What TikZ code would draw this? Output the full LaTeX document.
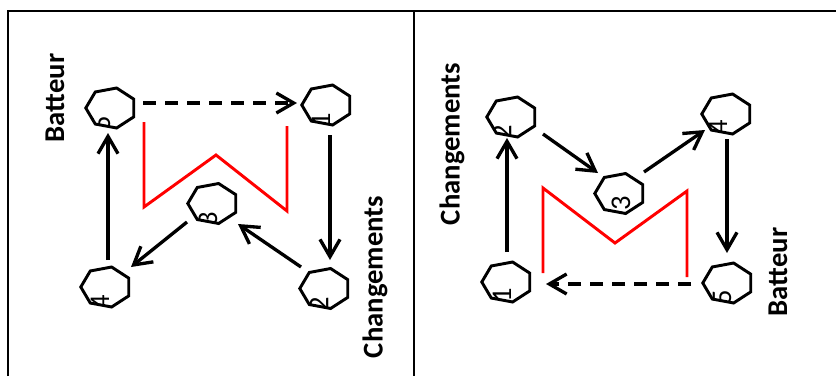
\documentclass[tikz,border=0pt]{standalone}
\usepackage{fontspec}
\setmainfont{Carlito}
\usetikzlibrary{arrows.meta,shapes.geometric,calc}

\tikzset{
  seat/.style={draw, line width=2.2pt, regular polygon, regular polygon sides=7,
    shape border rotate=90, minimum size=30.75pt, inner sep=0pt, outer sep=0pt,
    transform shape},
  digit/.style={rotate=90, inner sep=0pt, font=\fontsize{21.4}{24}\selectfont},
  lbl/.style={rotate=90, inner sep=0pt, font=\fontsize{21.5}{24}\selectfont\bfseries},
  conn/.style={line width=2.5pt, -{Straight Barb[length=13pt,width=15pt]}},
  dconn/.style={conn, dash pattern=on 10pt off 6.5pt},
  redline/.style={red, line width=2.2pt},
  frameline/.style={line width=1.8pt},
}

\newcommand\seatnode[6]{%
  \begin{scope}[shift={(#2,#3)}]
    \begin{scope}[xscale=1.23]
      \node[seat] (#1) at (0,0) {};
    \end{scope}
    \begin{scope}
      \clip (#1.corner 1) -- (#1.corner 2) -- (#1.corner 3) -- (#1.corner 4)
        -- (#1.corner 5) -- (#1.corner 6) -- (#1.corner 7) -- cycle;
      \node[digit] at (#5,#6) {#4};
    \end{scope}
  \end{scope}}

\begin{document}
\begin{tikzpicture}[x=0.75pt, y=-0.75pt]
  \useasboundingbox (0,0) rectangle (836,376);
  \fill[white] (0,0) rectangle (836,376);

  % frame
  \draw[frameline] (8,376) -- (8,11) -- (836,11);
  \draw[frameline] (414,11) -- (414,376);

  % ---------- left panel ----------
  \seatnode{L5}{111}{108}{5}{-10}{15}
  \seatnode{L1}{327}{105}{1}{-6}{15}
  \seatnode{L3}{213}{203.5}{3}{-5}{15.5}
  \seatnode{L4}{106}{287}{4}{-6}{15}
  \seatnode{L2}{325}{288.5}{2}{-6}{15.5}

  \node[lbl] (LB) at (55,98) {Batteur};
  \node[lbl] (LC) at (375,277) {Changements};

  \draw[dconn] ([shift={(32,-5)}]L5.center) -- ([shift={(-30,-2)}]L1.center);
  \draw[conn] ([shift={(3,30)}]L1.center) -- ([shift={(5,-28.5)}]L2.center);
  \draw[conn] ([shift={(-24,-21.5)}]L2.center) -- ([shift={(25,20.5)}]L3.center);
  \draw[conn] ([shift={(-26,18.5)}]L3.center) -- ([shift={(25,-20)}]L4.center);
  \draw[conn] ([shift={(2,-27)}]L4.center) -- ([shift={(-3,25)}]L5.center);

  \draw[redline] (144,122) -- (144,207) -- (216,155) -- (287,211) -- (287,126);

  % ---------- right panel ----------
  \seatnode{R2}{512}{117}{2}{-10}{15}
  \seatnode{R3}{620}{193.5}{3}{1}{9.5}
  \seatnode{R4}{727}{114}{4}{-9}{13.5}
  \seatnode{R1}{507}{282}{1}{-5}{13.5}
  \seatnode{R5}{728}{283}{5}{-6}{14}

  \node[lbl] (RC) at (452,144) {Changements};
  \node[lbl] (RB) at (778,272) {Batteur};

  \draw[conn] ([shift={(0,-30)}]R1.center) -- ([shift={(-5,21)}]R2.center);
  \draw[conn] ([shift={(31,17)}]R2.center) -- ([shift={(-22,-20.5)}]R3.center);
  \draw[conn] ([shift={(24,-21.5)}]R3.center) -- ([shift={(-22,16)}]R4.center);
  \draw[conn] ([shift={(0,25)}]R4.center) -- ([shift={(-1,-30)}]R5.center);
  \draw[dconn] ([shift={(-37,1)}]R5.center) -- ([shift={(39,2)}]R1.center);

  \draw[redline] (543,273) -- (543,188) -- (615,243) -- (687,191) -- (687,277);
\end{tikzpicture}
\end{document}
